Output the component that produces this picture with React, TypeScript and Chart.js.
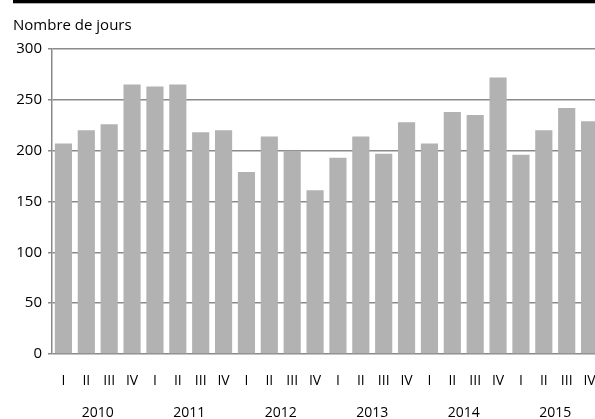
import React, { useEffect, useRef } from "react";
import { Chart, registerables } from "chart.js";

Chart.register(...registerables);

const quarters = ["I", "II", "III", "IV", "I", "II", "III", "IV", "I", "II", "III", "IV", "I", "II", "III", "IV", "I", "II", "III", "IV", "I", "II", "III", "IV"];
const years = ["2010", "2011", "2012", "2013", "2014", "2015"];
const values = [207, 220, 226, 265, 263, 265, 218, 220, 179, 214, 200, 161, 193, 214, 197, 228, 207, 238, 235, 272, 196, 220, 242, 229];
const yTicks = [0, 50, 100, 150, 200, 250, 300];
const unitLabel = "Nombre de jours";

const FONT = "'Open Sans', sans-serif";

const headerPlugin = {
  id: "header",
  afterDraw(chart: any) {
    const ctx = chart.ctx;
    ctx.save();
    ctx.fillStyle = "#000";
    ctx.fillRect(13, 0, chart.width, 3.3);
    ctx.font = `15px ${FONT}`;
    ctx.textAlign = "left";
    ctx.textBaseline = "alphabetic";
    ctx.fillText(unitLabel, 13, 29.5);
    ctx.restore();
  },
};

export default function App() {
  const ref = useRef<HTMLCanvasElement>(null);
  useEffect(() => {
    const chart = new Chart(ref.current!, {
      type: "bar",
      data: {
        labels: quarters,
        datasets: [
          {
            data: values,
            backgroundColor: "#b2b2b2",
            borderWidth: 0,
            categoryPercentage: 1,
            barPercentage: 0.75,
            xAxisID: "x",
          },
        ],
      },
      options: {
        responsive: false,
        animation: false,
        layout: { padding: { top: 49, left: 0, right: 0, bottom: 0 } },
        plugins: { legend: { display: false }, tooltip: { enabled: false }, title: { display: false } },
        scales: {
          x: {
            type: "category",
            position: "bottom",
            offset: true,
            grid: { display: false, drawTicks: false },
            border: { display: false },
            ticks: { autoSkip: false, maxRotation: 0, padding: 19, color: "#000", font: { family: FONT, size: 14 } },
            afterFit(s: any) { s.height = 42; s.paddingLeft = 0; s.paddingRight = 0; },
          },
          x2: {
            type: "category",
            position: "bottom",
            labels: years,
            offset: true,
            grid: { display: false, drawTicks: false },
            border: { display: false },
            ticks: { autoSkip: false, maxRotation: 0, padding: 9, color: "#000", font: { family: FONT, size: 14 } },
            afterFit(s: any) { s.height = 23; s.paddingLeft = 0; s.paddingRight = 0; },
          },
          y: {
            min: 0,
            max: 300,
            afterBuildTicks(s: any) { s.ticks = yTicks.map((v) => ({ value: v })); },
            grid: { color: "#8a8a8a", lineWidth: 1.5, tickLength: 4, drawTicks: true },
            border: { display: true, color: "#8a8a8a", width: 1.5 },
            ticks: { padding: 6, color: "#000", font: { family: FONT, size: 15 } },
            afterFit(s: any) { s.width = 52; },
          },
        },
      },
      plugins: [headerPlugin],
    });
    return () => chart.destroy();
  }, []);
  return (
    <div style={{ position: "fixed", left: 0, top: 0, width: 595, height: 419, overflow: "hidden", background: "#fff" }}>
      <canvas ref={ref} width={601} height={419} style={{ display: "block" }} />
    </div>
  );
}
